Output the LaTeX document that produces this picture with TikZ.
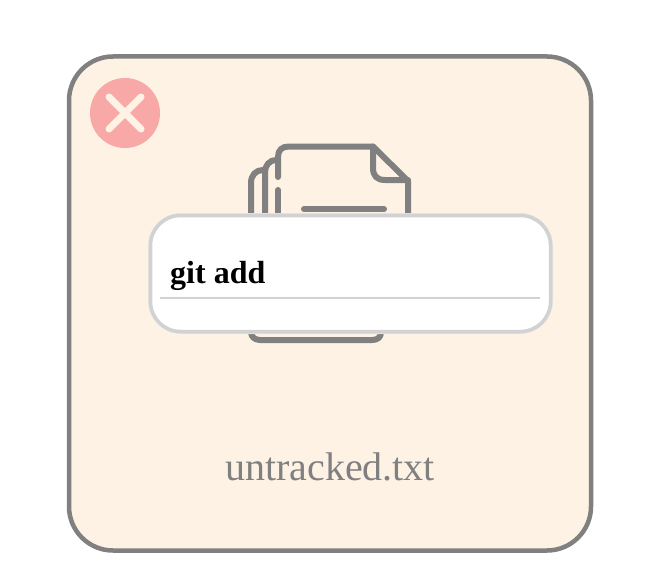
\documentclass[tikz,border=0pt]{standalone}
\usepackage{fontspec}
\setmainfont{Liberation Serif}
\definecolor{cardfill}{HTML}{FEF2E4}
\definecolor{cardgray}{HTML}{808080}
\definecolor{crossred}{HTML}{F8A8A6}
\definecolor{popline}{HTML}{D2D2D2}
\tikzset{
  docline/.style = {draw = cardgray, line width = 6pt, line cap = round, line join = round},
  poptext/.style = {anchor = base west, inner sep = 0pt, font = \fontsize{32}{36}\selectfont\bfseries},
  nametext/.style = {anchor = base, inner sep = 0pt, text = cardgray, font = \fontsize{40}{44}\selectfont}
}
\begin{document}
\begin{tikzpicture}[x = 1pt, y = -1pt]
    \useasboundingbox (0, 0) rectangle (648, 586);
    \fill[white] (0, 0) rectangle (648, 586);
    % card
    \draw[cardgray, fill = cardfill, line width = 4.5pt, rounded corners = 44pt] (69, 56.5) rectangle (591, 550.5);
    % badge
    \fill[crossred] (125, 113) circle (35);
    \draw[cardfill, line width = 7pt, line cap = round] (109, 97) -- (141, 129);
    \draw[cardfill, line width = 7pt, line cap = round] (109, 129) -- (141, 97);
    % pages
    \draw[docline] (278, 177) -- (278, 157) .. controls (278, 150) and (282, 146.5) .. (289, 146.5)
        -- (373, 146.5) -- (408, 181) -- (408, 225);
    \draw[docline] (373, 146.5) -- (373, 168) .. controls (373, 176) and (377, 180) .. (385, 180) -- (408, 180);
    \draw[docline] (278, 190) -- (278, 225);
    \draw[docline] (265, 225) -- (265, 172) .. controls (265, 165) and (270, 160) .. (276, 160);
    \draw[docline] (251, 225) -- (251, 183) .. controls (251, 175) and (256, 170) .. (263, 170);
    \draw[docline] (304, 209) -- (384, 209);
    \draw[docline] (251, 320) -- (251, 332) .. controls (251, 337) and (255, 340) .. (260, 340)
        -- (372, 340) .. controls (378, 340) and (381, 337) .. (381, 332) -- (381, 320);
    % popup
    \draw[popline!60, line width = 5pt, rounded corners = 31pt] (150.5, 215.5) rectangle (550.5, 331.5);
    \draw[popline, fill = white, line width = 3.5pt, rounded corners = 30pt] (150.5, 215.5) rectangle (550.5, 331.5);
    \draw[popline, line width = 1.5pt] (160, 298) -- (540, 298);
    \node[poptext] (popname) at (170, 283) {git add};
    % file name
    \node[nametext] (filename) at (330, 480) {untracked.txt};
\end{tikzpicture}
\end{document}
